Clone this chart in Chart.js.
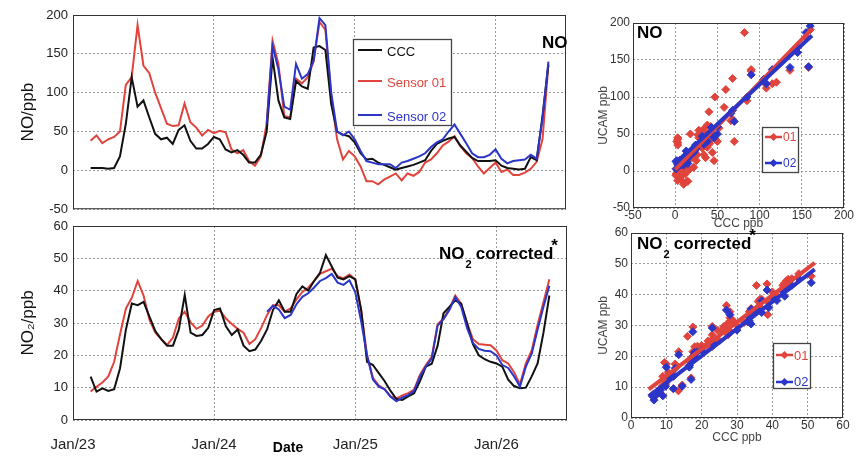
<!DOCTYPE html>
<html>
<head>
<meta charset="utf-8">
<title>NO / NO2 sensor comparison</title>
<script src="https://cdn.jsdelivr.net/npm/chart.js@4.4.0/dist/chart.umd.min.js"></script>
<style>
  html, body { margin: 0; padding: 0; background: #fff; }
  #wrap { position: relative; width: 868px; height: 457px; overflow: hidden; }
  canvas { position: absolute; }
</style>
</head>
<body>
<div id="wrap">
  <canvas id="noSeries" width="580" height="222" style="left:0;top:0"></canvas>
  <canvas id="no2Series" width="580" height="247" style="left:0;top:210px"></canvas>
  <canvas id="noScatter" width="288" height="232" style="left:580px;top:0"></canvas>
  <canvas id="no2Scatter" width="288" height="237" style="left:580px;top:220px"></canvas>
</div>
<script>
// sample times, in months since Jan 2023 (two samples a month)
const months = [1.5,2,2.5,3,3.5,4,4.5,5,5.5,6,6.5,7,7.5,8,8.5,9,9.5,10,10.5,11,11.5,12,12.5,13,13.5,14,14.5,15,15.5,16,16.5,17,17.5,18,18.5,19,19.5,20,20.5,21,21.5,22,22.5,23,23.5,24,24.5,25,25.5,26,26.5,27,27.5,28,28.5,29,29.5,30,30.5,31,31.5,32,32.5,33,33.5,34,34.5,35,35.5,36,36.5,37,37.5,38,38.5,39,39.5,40,40.5];
const tickMonths = [0, 12, 24, 36];
const tickLabels = ['Jan/23', 'Jan/24', 'Jan/25', 'Jan/26'];
const seriesNames = ['CCC', 'Sensor 01', 'Sensor 02'];
const sensorNames = ['01', '02'];

// NO, ppb
const noCCC = [3,3,3,2,3,18,60,120,82,90,68,47,40,42,34,52,58,38,28,28,34,43,40,27,23,26,20,10,10,20,50,145,90,68,66,115,108,105,158,160,155,85,50,46,44,36,22,14,15,10,7,4,1,3,5,7,10,13,25,34,38,41,43,32,24,16,12,12,12,13,6,3,2,1,2,17,13,70,136];
const noS01 = [38,45,35,40,43,50,110,120,187,135,125,100,80,60,57,58,86,62,55,45,52,48,51,49,27,22,26,12,6,18,60,167,137,70,68,118,112,120,140,191,181,95,40,14,25,18,5,-14,-14,-18,-12,-8,-4,-13,-4,-7,-2,10,14,22,32,37,44,31,22,16,5,-4,3,10,-2,1,-6,-6,-3,2,11,40,136];
const noS02 = [null,null,null,null,null,null,null,null,null,null,null,null,null,null,null,null,null,null,null,null,null,null,null,null,null,null,null,null,null,null,
  60,160,130,82,78,137,118,124,141,196,187,100,50,45,50,40,25,12,10,8,8,8,3,10,12,15,18,22,30,36,40,50,59,47,35,22,17,17,20,27,15,9,12,13,14,20,15,67,140];

// NO2 (corrected), ppb
const no2CCC = [13.4,8.8,9.8,9,9.5,16,28,36,35.5,36.5,32,27.5,25,23,23,28,38.7,27,26,26.3,28.5,34,34.5,29,26.3,28,23,21.3,21.8,24.5,28,34,37,33.5,33.5,39,41.3,40,43,45.5,51,47.5,44,43.5,44.5,43.5,34,18,17,14.5,12,9,6.5,6.2,7.3,8.3,12,16.5,17.4,23,33,35,37,36,30,23.5,20,18.8,18,17.5,16.5,12.5,10.5,9.8,10,13.5,17.5,27,38.5];
const no2S01 = [8.8,10.3,11.6,13.5,18,26.5,34.5,37.8,43,38.5,31,27,25,23.2,25.5,31.5,33.5,30.2,28.2,29.2,32,33.5,33.8,31.4,29.7,28.2,27,23.5,25,28.5,32.5,35.5,35.5,33.5,34.5,37.3,39.6,40.9,43,45.2,46,46.8,44.5,43.8,45,43.5,34,20,13,10.7,9.5,7.3,6.7,7.6,8.3,9.4,14,17,19.5,29.7,31.3,34.4,38.5,36,30,25,23.5,23.3,23.1,21.5,18.5,17.5,14.8,11,17.5,21.5,29.5,36.5,43.5];
const no2S02 = [null,null,null,null,null,null,null,null,null,null,null,null,null,null,null,null,null,null,null,null,null,null,null,null,null,null,null,null,null,null,
  33.5,35.3,34.2,31.5,32.5,35.8,38.1,39.2,41,43,43.9,45.2,42.5,41.8,43.2,39.5,30.5,20,12.5,10.3,9.5,7.2,5.8,7,7.7,9,13.5,16.5,19,29.2,31.2,34,38,35,28.5,23.8,22,21.4,21.3,20,17,16.1,13.5,10.3,16.5,20.5,28,35,41.5];

// regression lines (ends, in ppb)
const noFitX = [0, 162];
const noFitS01 = [2, 192];
const noFitS02 = [10, 183];
const no2FitX = [5, 52];
const no2FitS01 = [9.3, 50.3];
const no2FitS02 = [7, 48.2];

const FONT = '"Liberation Sans", Arial, sans-serif';
const BLACK = '#111111', RED = '#e0443c', BLUE = '#2b35c8';
const GRID = '#9a9a9a';

Chart.defaults.font.family = FONT;
Chart.defaults.animation = false;
Chart.defaults.events = [];
Chart.defaults.plugins.legend.display = false;
Chart.defaults.plugins.tooltip.enabled = false;

// pair two arrays into {x, y} points, skipping gaps
const pts = (xs, ys) => xs.map((x, i) => ({ x: x, y: ys[i] })).filter(p => p.x != null && p.y != null);

// extra drawing per canvas: frame, legend box, labels
const decor = {};

function drawNO2Corrected(ctx, x, base, size) {
  ctx.textAlign = 'left';
  ctx.textBaseline = 'alphabetic';
  ctx.fillStyle = '#000';
  ctx.font = `bold ${size}px ${FONT}`;
  ctx.fillText('NO', x, base);
  let cx = x + ctx.measureText('NO').width + 1;
  ctx.font = `bold ${Math.round(size * 0.65)}px ${FONT}`;
  ctx.fillText('2', cx, base + size * 0.55);
  cx += ctx.measureText('2').width + size * 0.25;
  ctx.font = `bold ${size}px ${FONT}`;
  ctx.fillText('corrected', cx, base);
  cx += ctx.measureText('corrected').width;
  ctx.fillText('*', cx - 2, base - size * 0.5);
}

const decorPlugin = {
  id: 'decor',
  afterDatasetsDraw(chart) {
    const d = decor[chart.canvas.id];
    const ctx = chart.ctx;
    const a = chart.chartArea;
    ctx.save();
    // frame round the plot
    ctx.strokeStyle = '#333';
    ctx.lineWidth = 1;
    ctx.strokeRect(a.left + 0.5, a.top + 0.5, a.right - a.left - 1, a.bottom - a.top - 1);

    if (d.legend) {
      const L = d.legend;
      ctx.fillStyle = '#fff';
      ctx.fillRect(L.x, L.y, L.w, L.h);
      ctx.strokeStyle = '#444';
      ctx.lineWidth = 1.3;
      ctx.strokeRect(L.x + 0.5, L.y + 0.5, L.w, L.h);
      L.items.forEach(it => {
        ctx.strokeStyle = it.color;
        ctx.lineWidth = L.lineWidth;
        ctx.beginPath();
        ctx.moveTo(L.x0, it.y);
        ctx.lineTo(L.x1, it.y);
        ctx.stroke();
        if (L.marker) {
          const mx = (L.x0 + L.x1) / 2, r = 4;
          ctx.fillStyle = it.color;
          ctx.beginPath();
          ctx.moveTo(mx - r, it.y); ctx.lineTo(mx, it.y - r);
          ctx.lineTo(mx + r, it.y); ctx.lineTo(mx, it.y + r);
          ctx.closePath();
          ctx.fill();
        }
        ctx.fillStyle = it.color;
        ctx.font = L.font;
        ctx.textAlign = 'left';
        ctx.textBaseline = 'middle';
        ctx.fillText(it.text, L.tx, it.ty);
      });
    }
    (d.texts || []).forEach(t => {
      ctx.fillStyle = t.color || '#000';
      ctx.font = t.font;
      ctx.textAlign = t.align || 'left';
      ctx.textBaseline = 'middle';
      ctx.fillText(t.text, t.x, t.y);
    });
    if (d.no2Label) drawNO2Corrected(ctx, d.no2Label.x, d.no2Label.base, d.no2Label.size);
    ctx.restore();
  }
};
Chart.register(decorPlugin);

// ---------- time series panels ----------
function seriesChart(id, ccc, s01, s02, y, opt) {
  return new Chart(document.getElementById(id), {
    type: 'line',
    data: {
      datasets: [
        { label: seriesNames[2], data: pts(months, s02), borderColor: BLUE, order: 0 },
        { label: seriesNames[0], data: pts(months, ccc), borderColor: BLACK, order: 1 },
        { label: seriesNames[1], data: pts(months, s01), borderColor: RED, order: 2 }
      ]
    },
    options: {
      responsive: false,
      layout: { padding: opt.padding },
      elements: {
        line: { borderWidth: 2, tension: 0, fill: false },
        point: { radius: 0 }
      },
      scales: {
        x: {
          type: 'linear', min: 0, max: 42,
          afterBuildTicks: s => { s.ticks = tickMonths.map(v => ({ value: v })); },
          afterFit: s => { s.height = opt.xHeight; },
          grid: { color: GRID, drawTicks: false },
          border: { display: false, dash: [2, 2] },
          ticks: {
            display: opt.showX, padding: 16, color: '#222', font: { size: 15 },
            maxRotation: 0, autoSkip: false,
            callback: (v, i) => tickLabels[i]
          }
        },
        y: {
          min: y.min, max: y.max,
          afterFit: s => { s.width = 73; },
          grid: { color: GRID, drawTicks: false },
          border: { display: false, dash: [2, 2] },
          ticks: { stepSize: y.step, padding: 5, color: '#222', font: { size: 13 } },
          title: { display: true, text: opt.yTitle, color: '#111', font: { size: 17 }, padding: { top: 18, bottom: 0 } }
        }
      }
    }
  });
}

decor.noSeries = {
  legend: {
    x: 353, y: 39, w: 98, h: 86, x0: 358, x1: 382, tx: 387, lineWidth: 2,
    font: `13px ${FONT}`, marker: false,
    items: [
      { text: seriesNames[0], color: BLACK, y: 50, ty: 52 },
      { text: seriesNames[1], color: RED, y: 81, ty: 83 },
      { text: seriesNames[2], color: BLUE, y: 115, ty: 117 }
    ]
  },
  texts: [{ text: 'NO', x: 542, y: 43, font: `bold 17px ${FONT}` }]
};
decor.no2Series = {
  texts: [{ text: 'Date', x: 288, y: 238, font: `bold 14px ${FONT}`, align: 'center' }],
  no2Label: { x: 439, base: 49, size: 17 }
};

seriesChart('noSeries', noCCC, noS01, noS02, { min: -50, max: 200, step: 50 },
  { padding: { left: 0, right: 14, top: 15, bottom: 0 }, xHeight: 12, showX: false, yTitle: 'NO/ppb' });
seriesChart('no2Series', no2CCC, no2S01, no2S02, { min: 0, max: 60, step: 10 },
  { padding: { left: 0, right: 13, top: 16, bottom: 0 }, xHeight: 37, showX: true, yTitle: 'NO\u2082/ppb' });

// ---------- scatter panels ----------
function scatterChart(id, ccc, s01, s02, fitX, fit01, fit02, ax, opt) {
  const fitLine = (ys) => fitX.map((x, i) => ({ x: x, y: ys[i] }));
  return new Chart(document.getElementById(id), {
    type: 'scatter',
    data: {
      datasets: [
        { label: sensorNames[1], data: fitLine(fit02), showLine: true, borderColor: BLUE, borderWidth: 4, pointRadius: 0, order: 0 },
        { label: sensorNames[0], data: fitLine(fit01), showLine: true, borderColor: RED, borderWidth: 4, pointRadius: 0, order: 1 },
        { label: sensorNames[1], data: pts(ccc, s02), pointStyle: 'rectRot', pointRadius: 4, backgroundColor: BLUE, borderColor: BLUE, borderWidth: 1, order: 2 },
        { label: sensorNames[0], data: pts(ccc, s01), pointStyle: 'rectRot', pointRadius: 4, backgroundColor: RED, borderColor: RED, borderWidth: 1, order: 3 }
      ]
    },
    options: {
      responsive: false,
      layout: { padding: opt.padding },
      scales: {
        x: {
          type: 'linear', min: ax.min, max: ax.max,
          afterFit: s => { s.height = opt.xHeight; },
          grid: { color: GRID, drawTicks: false },
          border: { display: false, dash: [2, 2] },
          ticks: { stepSize: ax.step, padding: 0, color: '#333', font: { size: 12 }, maxRotation: 0 },
          title: { display: true, text: 'CCC ppb', color: '#444', font: { size: 12 }, padding: { top: 0, bottom: opt.xTitlePad } }
        },
        y: {
          min: ax.min, max: ax.max,
          afterFit: s => { s.width = opt.yWidth; },
          grid: { color: GRID, drawTicks: false },
          border: { display: false, dash: [2, 2] },
          ticks: { stepSize: ax.step, padding: 3, color: '#333', font: { size: 12 } },
          title: { display: true, text: 'UCAM ppb', color: '#444', font: { size: 12 }, padding: { top: 16, bottom: 0 } }
        }
      }
    }
  });
}

decor.noScatter = {
  legend: {
    x: 762, y: 127, w: 36, h: 45, x0: 765, x1: 782, tx: 783, lineWidth: 2.5,
    font: `12px ${FONT}`, marker: true,
    items: [
      { text: sensorNames[0], color: RED, y: 137, ty: 138 },
      { text: sensorNames[1], color: BLUE, y: 163, ty: 164 }
    ]
  },
  texts: [{ text: 'NO', x: 637, y: 33, font: `bold 17px ${FONT}` }]
};
decor.no2Scatter = {
  legend: {
    x: 773, y: 343, w: 37, h: 45, x0: 776, x1: 793, tx: 794, lineWidth: 2.5,
    font: `13px ${FONT}`, marker: true,
    items: [
      { text: sensorNames[0], color: RED, y: 355, ty: 356 },
      { text: sensorNames[1], color: BLUE, y: 382, ty: 382 }
    ]
  },
  no2Label: { x: 637, base: 249, size: 17 }
};
// legend / label positions above are in page pixels; shift them into each canvas
[['noScatter', 580, 0], ['no2Scatter', 580, 220]].forEach(([id, dx, dy]) => {
  const d = decor[id];
  if (d.legend) {
    d.legend.x -= dx; d.legend.x0 -= dx; d.legend.x1 -= dx; d.legend.tx -= dx; d.legend.y -= dy;
    d.legend.items.forEach(it => { it.y -= dy; it.ty -= dy; });
  }
  (d.texts || []).forEach(t => { t.x -= dx; t.y -= dy; });
  if (d.no2Label) { d.no2Label.x -= dx; d.no2Label.base -= dy; }
});

scatterChart('noScatter', noCCC, noS01, noS02, noFitX, noFitS01, noFitS02,
  { min: -50, max: 200, step: 50 },
  { padding: { left: 0, right: 24, top: 23, bottom: 0 }, xHeight: 24, yWidth: 53, xTitlePad: 1 });
scatterChart('no2Scatter', no2CCC, no2S01, no2S02, no2FitX, no2FitS01, no2FitS02,
  { min: 0, max: 60, step: 10 },
  { padding: { left: 0, right: 25, top: 13, bottom: 0 }, xHeight: 39, yWidth: 51, xTitlePad: 12 });
</script>
</body>
</html>
